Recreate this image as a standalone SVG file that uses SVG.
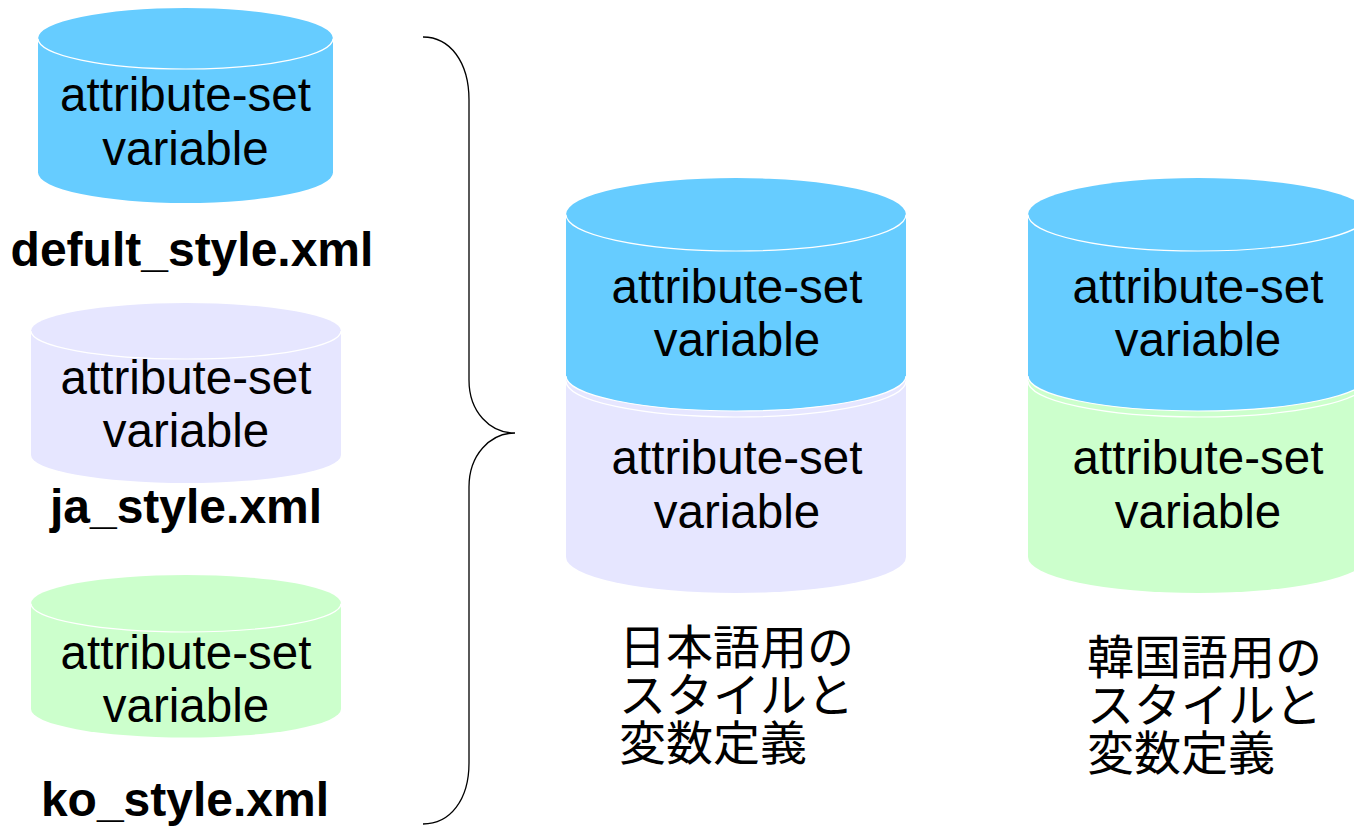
<svg xmlns="http://www.w3.org/2000/svg" width="1354" height="827" viewBox="0 0 1354 827">
  <style>
    .lbl { font-family: "Liberation Sans", Arial, sans-serif; font-size: 47.5px; fill: #000; text-anchor: middle; }
    .file { font-family: "Liberation Sans", Arial, sans-serif; font-size: 48px; font-weight: bold; fill: #000; text-anchor: middle; }
    .jp { font-family: "Noto Sans CJK JP", "Noto Sans CJK SC", sans-serif; font-size: 47px; fill: #000; }
    .blue { fill: #66CCFF; }
    .lav { fill: #E6E6FF; }
    .green { fill: #CCFFCC; }
    .rim { fill: none; stroke: #FFFFFF; stroke-width: 1.2; }
    .brace { fill: none; stroke: #000; stroke-width: 1.3; }
  </style>
  <rect width="1354" height="827" fill="#FFFFFF"/>

  <!-- default style file -->
  <g id="default-db">
    <path class="blue" d="M38,38.5 A147.5,30.5 0 0 1 333,38.5 L333,172.5 A147.5,30.5 0 0 1 38,172.5 Z"/>
    <path class="rim" d="M38,38.5 A147.5,30.5 0 0 0 333,38.5"/>
    <text class="lbl" x="185.5" y="111">attribute-set</text>
    <text class="lbl" x="185.5" y="165">variable</text>
  </g>
  <g id="default-label"><text class="file" x="192" y="266">defult_style.xml</text></g>

  <!-- japanese style file -->
  <g id="ja-db">
    <path class="lav" d="M31,331 A155,28 0 0 1 341,331 L341,455 A155,28 0 0 1 31,455 Z"/>
    <path class="rim" d="M31,331 A155,28 0 0 0 341,331"/>
    <text class="lbl" x="186" y="394">attribute-set</text>
    <text class="lbl" x="186" y="447">variable</text>
  </g>
  <g id="ja-label"><text class="file" x="186" y="523">ja_style.xml</text></g>

  <!-- korean style file -->
  <g id="ko-db">
    <path class="green" d="M31,603.5 A155,28.5 0 0 1 341,603.5 L341,709 A155,28.5 0 0 1 31,709 Z"/>
    <path class="rim" d="M31,603.5 A155,28.5 0 0 0 341,603.5"/>
    <text class="lbl" x="186" y="669">attribute-set</text>
    <text class="lbl" x="186" y="722">variable</text>
  </g>
  <g id="ko-label"><text class="file" x="185" y="816">ko_style.xml</text></g>

  <!-- brace gathering the three files -->
  <g id="connectors">
    <path class="brace" d="M423,37 C450,37 469,62 469,100 L469,380 C469,412 490,433 515,433 C490,433 469,455 469,487 L469,763 C469,800 450,824 423,824"/>
  </g>

  <!-- merged japanese stack -->
  <g id="ja-merged">
    <path class="lav" d="M566,381 A170,36 0 0 1 906,381 L906,557 A170,36 0 0 1 566,557 Z"/>
    <path class="rim" d="M566,381 A170,36 0 0 0 906,381"/>
    <path class="blue" d="M566,214.5 A170,36.5 0 0 1 906,214.5 L906,376 A170,35 0 0 1 566,376 Z"/>
    <path class="rim" d="M566,214.5 A170,36.5 0 0 0 906,214.5"/>
    <path class="rim" d="M566,376 A170,35 0 0 0 906,376"/>
    <text class="lbl" x="737" y="303">attribute-set</text>
    <text class="lbl" x="737" y="356">variable</text>
    <text class="lbl" x="737" y="474">attribute-set</text>
    <text class="lbl" x="737" y="528">variable</text>
  </g>
  <g id="ja-caption">
    <text class="jp" x="619" y="664">日本語用の</text>
    <text class="jp" x="619" y="712">スタイルと</text>
    <text class="jp" x="619" y="760">変数定義</text>
  </g>

  <!-- merged korean stack -->
  <g id="ko-merged">
    <path class="green" d="M1028,381 A170,36 0 0 1 1368,381 L1368,557 A170,36 0 0 1 1028,557 Z"/>
    <path class="rim" d="M1028,381 A170,36 0 0 0 1368,381"/>
    <path class="blue" d="M1028,214.5 A170,36.5 0 0 1 1368,214.5 L1368,376 A170,35 0 0 1 1028,376 Z"/>
    <path class="rim" d="M1028,214.5 A170,36.5 0 0 0 1368,214.5"/>
    <path class="rim" d="M1028,376 A170,35 0 0 0 1368,376"/>
    <text class="lbl" x="1198" y="303">attribute-set</text>
    <text class="lbl" x="1198" y="356">variable</text>
    <text class="lbl" x="1198" y="474">attribute-set</text>
    <text class="lbl" x="1198" y="528">variable</text>
  </g>
  <g id="ko-caption">
    <text class="jp" x="1087" y="674">韓国語用の</text>
    <text class="jp" x="1087" y="722">スタイルと</text>
    <text class="jp" x="1087" y="770">変数定義</text>
  </g>
</svg>
